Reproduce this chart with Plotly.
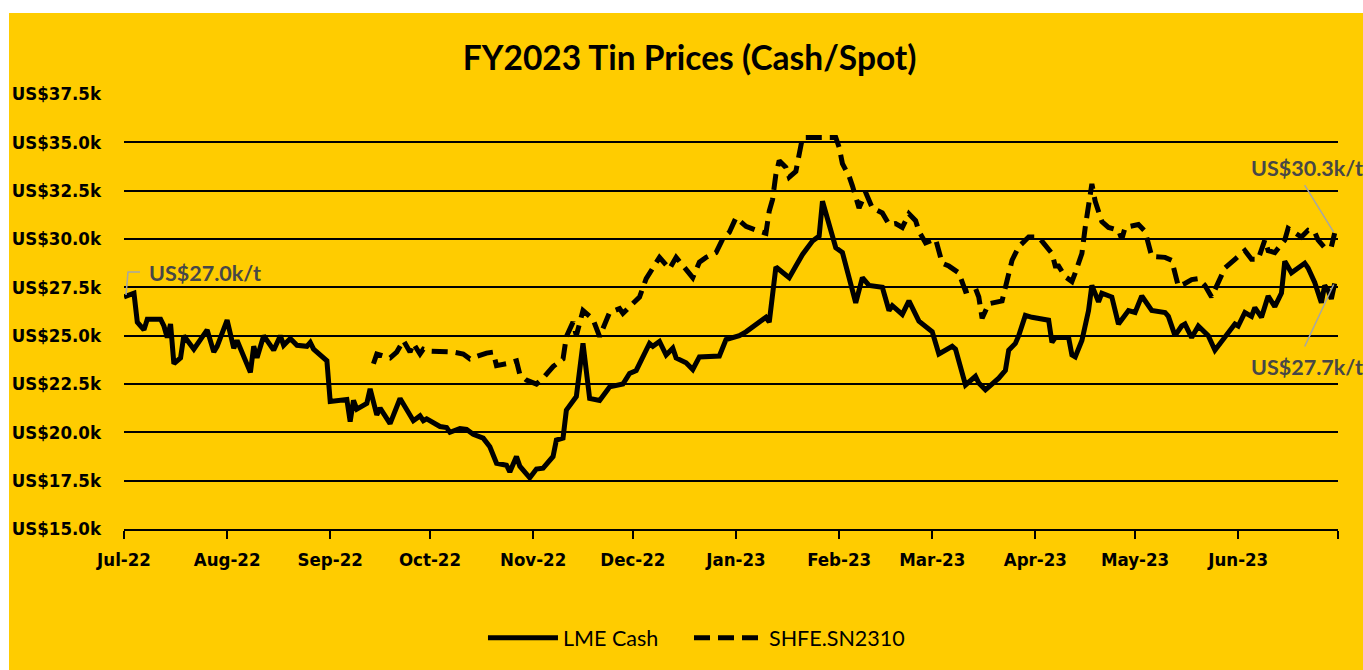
import plotly.graph_objects as go

# ---------------- data (US$ thousand per tonne) ----------------
lme_dates = [
    "2022-07-01", "2022-07-04", "2022-07-05", "2022-07-07", "2022-07-08", "2022-07-12", "2022-07-13",
    "2022-07-14", "2022-07-15", "2022-07-16", "2022-07-18", "2022-07-19", "2022-07-22", "2022-07-26",
    "2022-07-28", "2022-07-29", "2022-08-01", "2022-08-03", "2022-08-04", "2022-08-08", "2022-08-09",
    "2022-08-10", "2022-08-12", "2022-08-15", "2022-08-17", "2022-08-18", "2022-08-20", "2022-08-22",
    "2022-08-25", "2022-08-26", "2022-08-27", "2022-08-30", "2022-08-31", "2022-09-01", "2022-09-06",
    "2022-09-07", "2022-09-08", "2022-09-09", "2022-09-12", "2022-09-13", "2022-09-15", "2022-09-16",
    "2022-09-19", "2022-09-22", "2022-09-26", "2022-09-28", "2022-09-29", "2022-09-30", "2022-10-04",
    "2022-10-06", "2022-10-07", "2022-10-10", "2022-10-12", "2022-10-14", "2022-10-17", "2022-10-19",
    "2022-10-21", "2022-10-24", "2022-10-25", "2022-10-27", "2022-10-28", "2022-10-31", "2022-11-02",
    "2022-11-04", "2022-11-07", "2022-11-08", "2022-11-10", "2022-11-11", "2022-11-14", "2022-11-16",
    "2022-11-18", "2022-11-21", "2022-11-24", "2022-11-28", "2022-11-30", "2022-12-02", "2022-12-06",
    "2022-12-07", "2022-12-09", "2022-12-11", "2022-12-13", "2022-12-14", "2022-12-17", "2022-12-19",
    "2022-12-21", "2022-12-27", "2022-12-29", "2023-01-02", "2023-01-04", "2023-01-10", "2023-01-11",
    "2023-01-13", "2023-01-17", "2023-01-19", "2023-01-21", "2023-01-24", "2023-01-26", "2023-01-27",
    "2023-01-31", "2023-02-02", "2023-02-06", "2023-02-08", "2023-02-10", "2023-02-14", "2023-02-16",
    "2023-02-17", "2023-02-20", "2023-02-22", "2023-02-25", "2023-03-01", "2023-03-03", "2023-03-07",
    "2023-03-08", "2023-03-11", "2023-03-14", "2023-03-15", "2023-03-17", "2023-03-21", "2023-03-23",
    "2023-03-24", "2023-03-26", "2023-03-27", "2023-03-29", "2023-03-31", "2023-04-05", "2023-04-06",
    "2023-04-07", "2023-04-11", "2023-04-12", "2023-04-13", "2023-04-15", "2023-04-17", "2023-04-18",
    "2023-04-20", "2023-04-21", "2023-04-24", "2023-04-26", "2023-04-29", "2023-05-01", "2023-05-03",
    "2023-05-06", "2023-05-10", "2023-05-11", "2023-05-13", "2023-05-15", "2023-05-16", "2023-05-18",
    "2023-05-20", "2023-05-23", "2023-05-25", "2023-05-31", "2023-06-01", "2023-06-03", "2023-06-05",
    "2023-06-06", "2023-06-08", "2023-06-10", "2023-06-12", "2023-06-14", "2023-06-15", "2023-06-17",
    "2023-06-19", "2023-06-21", "2023-06-22", "2023-06-24", "2023-06-26", "2023-06-27", "2023-06-28",
    "2023-06-29", "2023-06-30",
]
lme_cash = [
    27.0, 27.2, 25.7, 25.3, 25.85, 25.85, 25.5,
    24.9, 25.6, 23.55, 23.85, 25.0, 24.3, 25.3,
    24.15, 24.45, 25.8, 24.35, 24.75, 23.1, 24.45,
    23.85, 25.0, 24.25, 25.0, 24.5, 24.85, 24.5,
    24.45, 24.65, 24.3, 23.9, 23.7, 21.6, 21.7,
    20.55, 21.65, 21.2, 21.5, 22.25, 20.9, 21.25,
    20.45, 21.75, 20.6, 20.85, 20.6, 20.7, 20.3,
    20.25, 20.0, 20.2, 20.15, 19.9, 19.7, 19.25,
    18.4, 18.3, 17.95, 18.75, 18.25, 17.65, 18.1,
    18.15, 18.75, 19.6, 19.7, 21.15, 21.85, 24.6,
    21.75, 21.65, 22.35, 22.5, 23.05, 23.2, 24.6,
    24.45, 24.7, 24.0, 24.35, 23.85, 23.6, 23.25,
    23.9, 23.95, 24.8, 25.0, 25.2, 25.95, 25.7,
    28.55, 28.0, 28.6, 29.2, 29.9, 30.15, 31.95,
    29.55, 29.3, 26.7, 28.0, 27.6, 27.5, 26.3,
    26.55, 26.1, 26.8, 25.75, 25.2, 24.05, 24.45,
    24.3, 22.45, 22.9, 22.55, 22.2, 22.8, 23.2,
    24.25, 24.6, 25.0, 26.05, 25.95, 25.8, 24.65,
    24.9, 24.9, 24.0, 23.9, 24.75, 26.3, 27.6,
    26.75, 27.2, 27.0, 25.6, 26.3, 26.2, 27.05,
    26.3, 26.2, 26.0, 25.0, 25.5, 25.6, 24.9,
    25.5, 25.0, 24.25, 25.6, 25.5, 26.2, 26.0,
    26.45, 25.95, 27.05, 26.5, 27.2, 28.85, 28.25,
    28.5, 28.75, 28.5, 27.75, 26.7, 27.6, 27.35,
    26.9, 27.7,
]

shfe_dates = [
    "2022-09-14", "2022-09-15", "2022-09-19", "2022-09-21", "2022-09-23", "2022-09-25", "2022-09-26",
    "2022-09-28", "2022-09-29", "2022-10-01", "2022-10-08", "2022-10-11", "2022-10-13", "2022-10-18",
    "2022-10-20", "2022-10-21", "2022-10-24", "2022-10-27", "2022-10-28", "2022-10-30", "2022-11-02",
    "2022-11-04", "2022-11-07", "2022-11-09", "2022-11-10", "2022-11-11", "2022-11-13", "2022-11-14",
    "2022-11-16", "2022-11-19", "2022-11-21", "2022-11-24", "2022-11-27", "2022-11-28", "2022-12-03",
    "2022-12-05", "2022-12-07", "2022-12-09", "2022-12-12", "2022-12-14", "2022-12-19", "2022-12-21",
    "2022-12-23", "2022-12-26", "2022-12-28", "2022-12-30", "2023-01-01", "2023-01-04", "2023-01-08",
    "2023-01-10", "2023-01-11", "2023-01-12", "2023-01-13", "2023-01-14", "2023-01-16", "2023-01-17",
    "2023-01-19", "2023-01-20", "2023-01-21", "2023-01-31", "2023-02-01", "2023-02-02", "2023-02-04",
    "2023-02-05", "2023-02-06", "2023-02-07", "2023-02-09", "2023-02-11", "2023-02-14", "2023-02-16",
    "2023-02-18", "2023-02-20", "2023-02-22", "2023-02-24", "2023-02-25", "2023-02-27", "2023-03-02",
    "2023-03-03", "2023-03-04", "2023-03-06", "2023-03-09", "2023-03-11", "2023-03-14", "2023-03-15",
    "2023-03-16", "2023-03-18", "2023-03-22", "2023-03-23", "2023-03-25", "2023-03-27", "2023-03-30",
    "2023-04-02", "2023-04-04", "2023-04-06", "2023-04-07", "2023-04-08", "2023-04-10", "2023-04-12",
    "2023-04-13", "2023-04-15", "2023-04-16", "2023-04-17", "2023-04-18", "2023-04-19", "2023-04-21",
    "2023-04-23", "2023-04-26", "2023-04-27", "2023-04-28", "2023-05-02", "2023-05-04", "2023-05-06",
    "2023-05-10", "2023-05-12", "2023-05-13", "2023-05-14", "2023-05-16", "2023-05-18", "2023-05-20",
    "2023-05-22", "2023-05-24", "2023-05-26", "2023-05-28", "2023-05-31", "2023-06-03", "2023-06-05",
    "2023-06-07", "2023-06-09", "2023-06-10", "2023-06-12", "2023-06-15", "2023-06-16", "2023-06-18",
    "2023-06-20", "2023-06-22", "2023-06-24", "2023-06-25", "2023-06-27", "2023-06-29", "2023-06-30",
]
shfe_sn2310 = [
    23.55, 24.05, 23.85, 24.15, 24.75, 24.15, 24.6,
    24.05, 24.3, 24.2, 24.15, 24.05, 23.8, 24.1,
    24.15, 23.45, 23.55, 23.7, 23.0, 22.7, 22.5,
    22.8, 23.4, 23.65, 23.8, 24.95, 25.7, 25.0,
    26.3, 25.85, 24.95, 26.2, 26.4, 26.15, 27.0,
    27.95, 28.55, 29.05, 28.45, 29.05, 28.0, 28.8,
    29.05, 29.3, 30.0, 30.35, 31.1, 30.65, 30.4,
    30.3, 31.45, 32.05, 33.35, 34.05, 33.7, 33.2,
    33.5, 34.4, 35.25, 35.25, 34.75, 33.9, 33.25,
    32.75, 32.05, 31.6, 32.4, 31.6, 31.35, 30.75,
    30.8, 30.6, 31.3, 30.95, 30.4, 29.8, 30.0,
    29.35, 28.75, 28.6, 28.25, 27.3, 27.45, 27.0,
    25.9, 26.65, 26.8, 27.5, 28.9, 29.6, 30.1,
    30.1, 29.7, 29.25, 28.6, 28.6, 28.05, 27.8,
    28.25, 29.25, 30.6, 31.8, 32.85, 31.95, 30.9,
    30.6, 30.45, 30.0, 30.6, 30.75, 30.4, 29.1,
    29.05, 28.9, 28.25, 27.55, 27.7, 27.9, 27.95,
    27.6, 27.0, 27.75, 28.5, 28.95, 29.4, 28.95,
    28.95, 29.95, 29.4, 29.3, 29.95, 30.55, 30.35,
    30.1, 30.45, 30.35, 29.95, 29.55, 29.6, 30.3,
]

month_ticks = ["2022-07-01", "2022-08-01", "2022-09-01", "2022-10-01", "2022-11-01", "2022-12-01",
               "2023-01-01", "2023-02-01", "2023-03-01", "2023-04-01", "2023-05-01", "2023-06-01",
               "2023-07-01"]
month_labels = ["Jul-22", "Aug-22", "Sep-22", "Oct-22", "Nov-22", "Dec-22",
                "Jan-23", "Feb-23", "Mar-23", "Apr-23", "May-23", "Jun-23", ""]
y_ticks = [15.0, 17.5, 20.0, 22.5, 25.0, 27.5, 30.0, 32.5, 35.0, 37.5]

title_text = "FY2023 Tin Prices (Cash/Spot)"
series_names = ["LME Cash", "SHFE.SN2310"]

# ---------------- styling ----------------
YELLOW = "#FFCC00"
GREY_TXT = "#474747"
GREY_LINE = "#A6A6A6"
AXIS_FONT = dict(family="DejaVu Sans Condensed, Roboto, sans-serif", size=18.5, color="black")
LEG_FONT = dict(family="Lato", size=21.5, color="black")
W, H = 1363, 670

fig = go.Figure()
fig.add_trace(go.Scatter(
    x=lme_dates, y=lme_cash, name=series_names[0], mode="lines", legend="legend",
    line=dict(color="black", width=5), hoverinfo="x+y"))
fig.add_trace(go.Scatter(
    x=shfe_dates, y=shfe_sn2310, name=series_names[1], mode="lines", legend="legend2",
    line=dict(color="black", width=5, dash="16px,8px"), hoverinfo="x+y"))

fig.update_layout(
    width=W, height=H,
    paper_bgcolor=YELLOW, plot_bgcolor=YELLOW,
    margin=dict(l=124, r=25, t=94, b=141, autoexpand=False),
    title=dict(text="<b>" + title_text + "</b>", x=0.506, xref="container",
               y=1 - 58 / H, yref="container", xanchor="center", yanchor="middle",
               font=dict(family="Lato", size=33.5, color="black")),
    showlegend=True,
    legend=dict(orientation="h", x=0.2957, y=-0.25, xanchor="left", yanchor="middle",
                font=LEG_FONT, bgcolor="rgba(0,0,0,0)", itemwidth=70),
    legend2=dict(orientation="h", x=0.4654, y=-0.25, xanchor="left", yanchor="middle",
                 font=LEG_FONT, bgcolor="rgba(0,0,0,0)", itemwidth=70),
    font=dict(family="Lato", color="black"),
)

fig.update_xaxes(
    type="date", range=["2022-07-01", "2023-07-01"],
    tickmode="array", tickvals=month_ticks, ticktext=["<b>" + t + "</b>" if t else "" for t in month_labels],
    ticks="outside", ticklen=8, tickwidth=2, tickcolor="black",
    showline=True, linecolor="black", linewidth=2,
    showgrid=False, zeroline=False, tickfont=AXIS_FONT, automargin=False,
    ticklabelstandoff=5,
)
fig.update_yaxes(
    range=[15, 37.5], tickmode="array", tickvals=y_ticks,
    ticktext=["<b>US$%.1fk</b>" % v for v in y_ticks],
    showgrid=True, gridcolor="black", gridwidth=2,
    showline=False, zeroline=False, ticks="", tickfont=AXIS_FONT, automargin=False,
    ticklabelstandoff=22,
)

# white border strips (top and left) outside the yellow chart area
fig.add_shape(type="rect", xref="paper", yref="paper", xsizemode="pixel", ysizemode="pixel",
              xanchor=0, yanchor=1, x0=-130, x1=1300, y0=94, y1=81, fillcolor="white",
              line=dict(width=0), layer="below")
fig.add_shape(type="rect", xref="paper", yref="paper", xsizemode="pixel", ysizemode="pixel",
              xanchor=0, yanchor=0, x0=-130, x1=-115, y0=-150, y1=600, fillcolor="white",
              line=dict(width=0), layer="below")

# leader lines anchored on data points (pixel offsets)
fig.add_shape(type="path", xref="x", yref="y", xsizemode="pixel", ysizemode="pixel",
              xanchor=lme_dates[0], yanchor=lme_cash[0], path="M 2,2 L 4,25 L 16,25",
              line=dict(color=GREY_LINE, width=1.5))
fig.add_shape(type="line", xref="x", yref="y", xsizemode="pixel", ysizemode="pixel",
              xanchor=shfe_dates[-1], yanchor=shfe_sn2310[-1], x0=-1, y0=1, x1=-30, y1=48,
              line=dict(color=GREY_LINE, width=1.5))
fig.add_shape(type="line", xref="x", yref="y", xsizemode="pixel", ysizemode="pixel",
              xanchor=lme_dates[-1], yanchor=lme_cash[-1], x0=-1, y0=-1, x1=-30, y1=-63,
              line=dict(color=GREY_LINE, width=1.5))

ann_font = dict(family="Lato", size=21.5, color=GREY_TXT)
fig.add_annotation(x=lme_dates[0], y=lme_cash[0], text="<b>US$%.1fk/t</b>" % lme_cash[0],
                   showarrow=False, xanchor="left", yanchor="middle", xshift=23, yshift=24, font=ann_font)
fig.add_annotation(x=shfe_dates[-1], y=shfe_sn2310[-1], text="<b>US$%.1fk/t</b>" % shfe_sn2310[-1],
                   showarrow=False, xanchor="left", yanchor="middle", xshift=-86, yshift=65, font=ann_font)
fig.add_annotation(x=lme_dates[-1], y=lme_cash[-1], text="<b>US$%.1fk/t</b>" % lme_cash[-1],
                   showarrow=False, xanchor="left", yanchor="middle", xshift=-86, yshift=-84, font=ann_font)

fig.write_html("out.html")
